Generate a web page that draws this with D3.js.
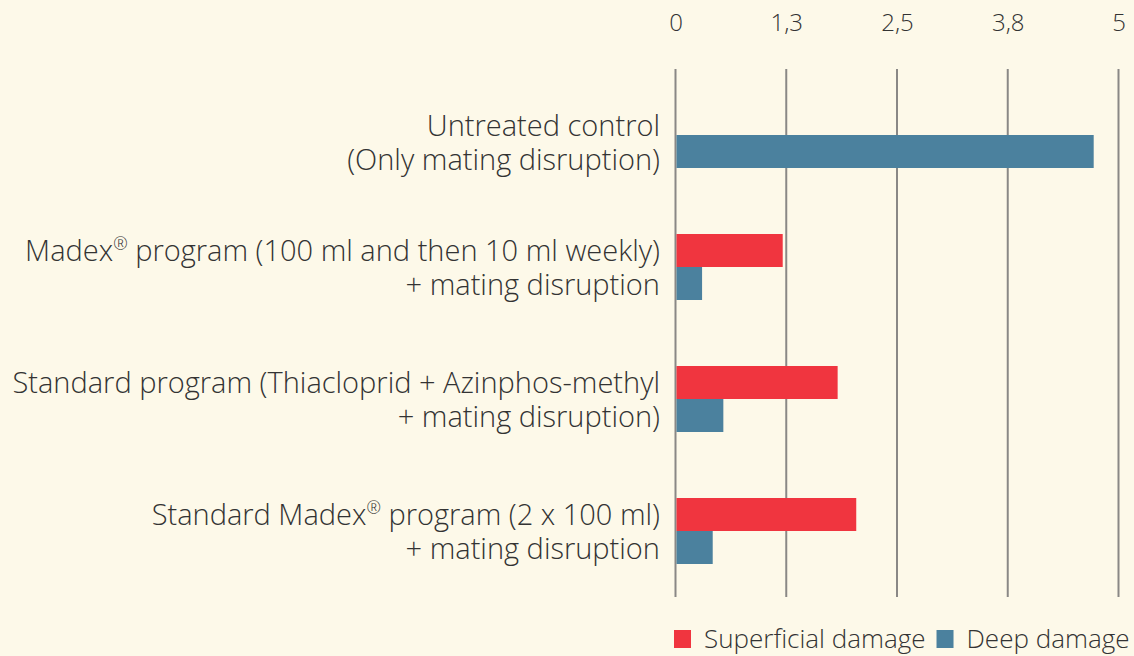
<!DOCTYPE html>
<html>
<head>
<meta charset="utf-8">
<script src="https://cdn.jsdelivr.net/npm/d3@7"></script>
<style>
  html, body { margin: 0; padding: 0; background: #fdf9e9; }
  svg { display: block; font-family: "Open Sans", sans-serif; }
</style>
</head>
<body>
<svg width="1134" height="656"></svg>
<script>
const categories = [
  ["Untreated control", "(Only mating disruption)"],
  ["Madex® program (100 ml and then 10 ml weekly)", "+ mating disruption"],
  ["Standard program (Thiacloprid + Azinphos-methyl", "+ mating disruption)"],
  ["Standard Madex® program (2 x 100 ml)", "+ mating disruption"]
];
const superficial = [null, 1.21, 1.83, 2.04];
const deep = [4.72, 0.30, 0.54, 0.42];
const seriesNames = ["Superficial damage", "Deep damage"];
const tickValues = [0, 1.25, 2.5, 3.75, 5];

const svg = d3.select("svg"),
      width = +svg.attr("width"),
      height = +svg.attr("height");

const color = d3.scaleOrdinal().domain(seriesNames).range(["#f0353f", "#4b819e"]);
const locale = d3.formatLocale({decimal: ",", thousands: ".", grouping: [3], currency: ["", "€"]});
const fmt = locale.format(".1~f");

const keys = categories.map((d, i) => i);
const x = d3.scaleLinear().domain([0, 5]).range([675.5, 1118.5]);
const y0 = d3.scaleBand().domain(keys).range([69, 597]).paddingInner(0.5).paddingOuter(0.25);
const y1 = d3.scaleBand().domain(seriesNames).range([0, y0.bandwidth()]);

// gridlines
svg.append("g")
  .selectAll("line")
  .data(tickValues)
  .join("line")
  .attr("x1", d => x(d)).attr("x2", d => x(d))
  .attr("y1", 69).attr("y2", 597)
  .attr("stroke", "#8a8886")
  .attr("stroke-width", 2);

// top axis labels
const ax = svg.append("g")
  .attr("transform", "translate(0,31)")
  .call(d3.axisTop(x).tickValues(tickValues).tickFormat(fmt).tickSize(0).tickPadding(0));
ax.select(".domain").remove();
ax.selectAll("text")
  .attr("font-family", "'Open Sans', sans-serif")
  .attr("font-size", 24)
  .attr("font-weight", 300)
  .attr("fill", "#333")
  .attr("dy", 0);

// bars
const rows = keys.map(i => ({i, values: [
  {name: seriesNames[0], v: superficial[i]},
  {name: seriesNames[1], v: deep[i]}
]}));

const grp = svg.append("g")
  .selectAll("g")
  .data(rows)
  .join("g")
  .attr("transform", d => `translate(0,${y0(d.i)})`);

grp.selectAll("rect")
  .data(d => d.values.filter(v => v.v != null))
  .join("rect")
  .attr("x", x(0) + 1)
  .attr("y", d => y1(d.name))
  .attr("width", d => x(d.v) - x(0) - 1)
  .attr("height", y1.bandwidth())
  .attr("fill", d => color(d.name));

// category labels (the untreated row has only one bar, its label sits a bit lower)
const lab = svg.append("g")
  .selectAll("text")
  .data(keys)
  .join("text")
  .attr("x", 660)
  .attr("y", d => y0(d) + y0.bandwidth() / 2 + (superficial[d] == null ? 7 : 0))
  .attr("text-anchor", "end")
  .attr("font-size", 29)
  .attr("font-weight", 300)
  .attr("fill", "#333");

lab.each(function (d) {
  const el = d3.select(this);
  categories[d].forEach((line, j) => {
    const ts = el.append("tspan")
      .attr("x", 660)
      .attr("dy", j === 0 ? "-0.22em" : "1.18em");
    // small raised ® like the original
    line.split("®").forEach((part, k) => {
      if (k > 0) {
        ts.append("tspan").attr("font-size", "0.6em").attr("dy", "-0.6em").text("®");
        ts.append("tspan").attr("dy", "0.36em").text(part);
      } else {
        ts.append("tspan").text(part);
      }
    });
  });
});

// legend
const legend = svg.append("g").attr("transform", "translate(674,630)");
let lx = 0;
seriesNames.forEach(name => {
  const item = legend.append("g").attr("transform", `translate(${lx},0)`);
  item.append("rect").attr("width", 17).attr("height", 18).attr("fill", color(name));
  const t = item.append("text")
    .attr("x", 30).attr("y", 18)
    .attr("font-size", 26)
    .attr("font-weight", 300)
    .attr("fill", "#333")
    .text(name);
  lx += 30 + t.node().getComputedTextLength() + 11;
});
</script>
</body>
</html>
